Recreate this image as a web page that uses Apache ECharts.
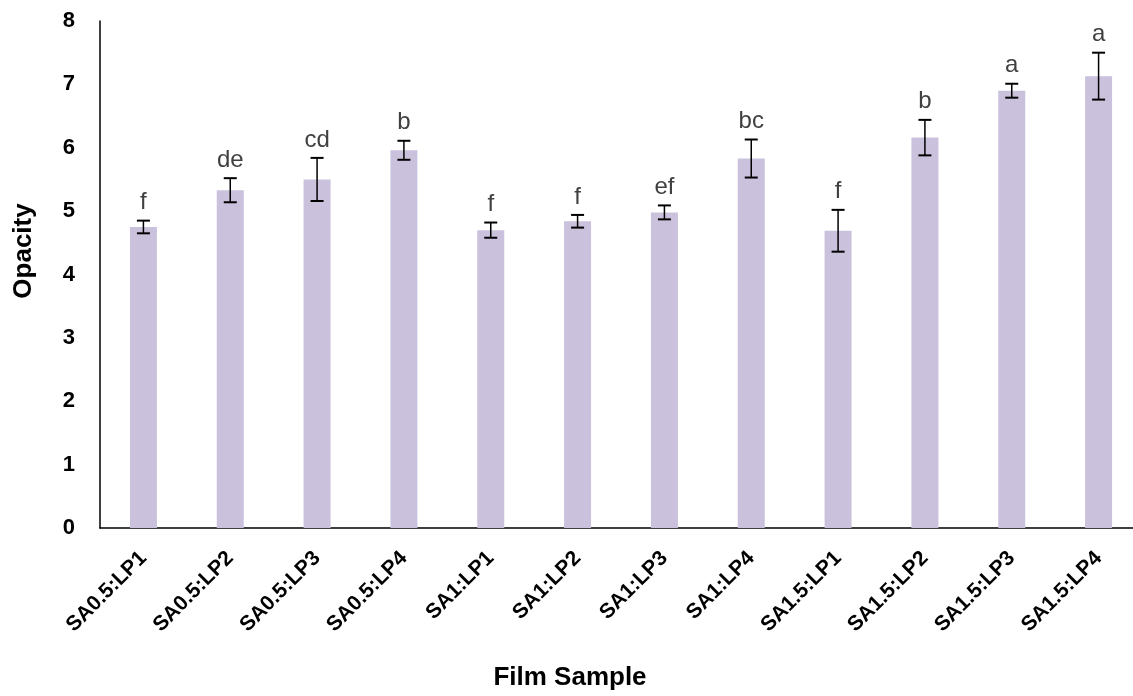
<!DOCTYPE html>
<html>
<head>
<meta charset="utf-8">
<script src="https://cdn.jsdelivr.net/npm/echarts@6/dist/echarts.min.js"></script>
<style>
  html, body { margin: 0; padding: 0; background: #fff; }
  #grafico { width: 1133px; height: 696px; }
</style>
</head>
<body>
<div id="grafico"></div>
<script>
var samples = ['SA0.5:LP1', 'SA0.5:LP2', 'SA0.5:LP3', 'SA0.5:LP4', 'SA1:LP1', 'SA1:LP2',
  'SA1:LP3', 'SA1:LP4', 'SA1.5:LP1', 'SA1.5:LP2', 'SA1.5:LP3', 'SA1.5:LP4'];
var opacityMean = [4.75, 5.33, 5.50, 5.96, 4.70, 4.84, 4.98, 5.83, 4.69, 6.16, 6.90, 7.13];
var opacityErr = [0.10, 0.19, 0.34, 0.15, 0.12, 0.10, 0.11, 0.30, 0.33, 0.28, 0.11, 0.37];
var letters = ['f', 'de', 'cd', 'b', 'f', 'f', 'ef', 'bc', 'f', 'b', 'a', 'a'];
var yTicks = [0, 1, 2, 3, 4, 5, 6, 7, 8];

var errData = samples.map(function (s, i) {
  return [i, opacityMean[i], opacityErr[i]];
});

var chartDom = document.getElementById('grafico');
var myChart = echarts.init(chartDom);
var option;

option = {
  animation: false,
  grid: {
    left: 100,
    top: 21,
    width: 1042,
    bottom: 168,
    outerBoundsMode: 'none',
    containLabel: false
  },
  xAxis: {
    type: 'category',
    data: samples,
    axisLine: { lineStyle: { color: '#000', width: 1.5 } },
    axisTick: { show: false },
    axisLabel: {
      rotate: 45,
      margin: 27,
      interval: 0,
      color: '#000',
      fontFamily: 'Liberation Sans',
      fontWeight: 'bold',
      fontSize: 21
    }
  },
  yAxis: {
    type: 'value',
    min: yTicks[0],
    max: yTicks[yTicks.length - 1],
    interval: 1,
    axisLine: { show: true, lineStyle: { color: '#000', width: 1.5 } },
    axisTick: { show: false },
    splitLine: { show: false },
    axisLabel: {
      margin: 25,
      color: '#000',
      fontFamily: 'Liberation Sans',
      fontWeight: 'bold',
      fontSize: 22
    }
  },
  graphic: [
    {
      type: 'text',
      x: 24,
      y: 251,
      rotation: Math.PI / 2,
      style: {
        text: 'Opacity',
        fill: '#000',
        font: 'bold 26px "Liberation Sans"',
        textAlign: 'center',
        textVerticalAlign: 'middle'
      }
    },
    {
      type: 'text',
      x: 570,
      y: 678,
      style: {
        text: 'Film Sample',
        fill: '#000',
        font: 'bold 26px "Liberation Sans"',
        textAlign: 'center',
        textVerticalAlign: 'middle'
      }
    }
  ],
  series: [
    {
      name: 'Opacity',
      type: 'bar',
      data: opacityMean,
      barWidth: 27,
      itemStyle: { color: '#CAC1DC' }
    },
    {
      name: 'Error',
      type: 'custom',
      data: errData,
      encode: { x: 0, y: 1 },
      z: 5,
      renderItem: function (params, api) {
        var i = api.value(0);
        var m = api.value(1);
        var e = api.value(2);
        var hi = api.coord([i, m + e]);
        var lo = api.coord([i, m - e]);
        var w = 6.5;
        return {
          type: 'group',
          children: [
            { type: 'line', shape: { x1: hi[0], y1: hi[1], x2: lo[0], y2: lo[1] },
              style: { stroke: '#000', lineWidth: 1.5 } },
            { type: 'line', shape: { x1: hi[0] - w, y1: hi[1], x2: hi[0] + w, y2: hi[1] },
              style: { stroke: '#000', lineWidth: 2 } },
            { type: 'line', shape: { x1: lo[0] - w, y1: lo[1], x2: lo[0] + w, y2: lo[1] },
              style: { stroke: '#000', lineWidth: 2 } },
            { type: 'text', x: hi[0], y: hi[1] - 6,
              style: { text: letters[params.dataIndex], fill: '#404040',
                font: '24px "Liberation Sans"', textAlign: 'center', textVerticalAlign: 'bottom' } }
          ]
        };
      }
    }
  ]
};

option && myChart.setOption(option);
</script>
</body>
</html>
